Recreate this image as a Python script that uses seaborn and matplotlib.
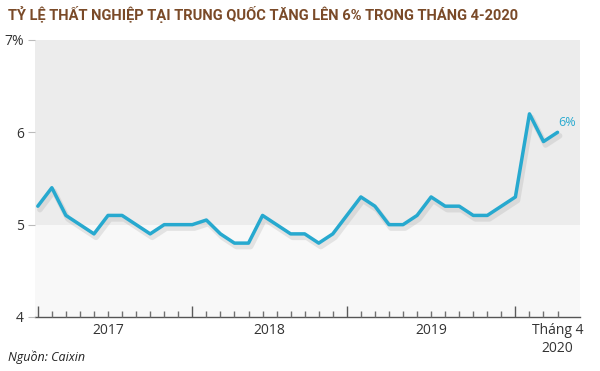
import numpy as np
import pandas as pd
import matplotlib
matplotlib.use("Agg")
import matplotlib.pyplot as plt
import matplotlib.patheffects as pe
import seaborn as sns

# ---- data (monthly surveyed unemployment rate, Mar 2017 .. Apr 2020) ----
rates = [5.2, 5.4, 5.1, 5.0, 4.9, 5.1, 5.1, 5.0, 4.9, 5.0,
         5.0, 5.0, 5.05, 4.9, 4.8, 4.8, 5.1, 5.0, 4.9, 4.9, 4.8, 4.9,
         5.1, 5.3, 5.2, 5.0, 5.0, 5.1, 5.3, 5.2, 5.2, 5.1, 5.1, 5.2,
         5.3, 6.2, 5.9, 6.0]
year_labels = ["2017", "2018", "2019", "Tháng 4\n2020"]
year_label_pos = [5.0, 16.5, 28.0, 37.0]
year_start_ticks = [0, 11, 22, 34]
y_ticks = [4, 5, 6, 7]
y_ticklabels = ["4", "5", "6", "7%"]
end_label = "6%"

df = pd.DataFrame({"month": np.arange(len(rates)), "rate": rates})

sns.set_theme(style="white")
plt.rcParams["font.family"] = ["Open Sans", "DejaVu Sans"]

line_color = "#27a9cf"
fig = plt.figure(figsize=(6.0, 3.71), dpi=100)
ax = fig.add_axes([0.0583, 0.1456, 0.9084, 0.7466])
ax.set_facecolor("#f8f8f8")
ax.set_axisbelow(False)
ax.axhspan(5, 7, color="#ececec", zorder=0, lw=0)

sns.lineplot(data=df, x="month", y="rate", ax=ax, color=line_color,
             linewidth=2.5, zorder=3,
             path_effects=[pe.SimpleLineShadow(offset=(1.5, -2.5), shadow_color="#999999", alpha=0.22,
                                               linewidth=4),
                           pe.Normal()])
ax.lines[-1].set_solid_capstyle("round")

ax.set_xlim(-0.2, 38.6)
ax.set_ylim(4, 7)

# y axis
ax.set_yticks(y_ticks)
ax.set_yticklabels(y_ticklabels, fontsize=10, color="#333333")
ax.tick_params(axis="y", which="major", direction="out", length=5, width=0.8,
               color="#bbbbbb", pad=3, left=True)

# x axis: labels at year centres
ax.set_xticks(year_label_pos)
ax.set_xticklabels(year_labels, fontsize=10, color="#333333")
ax.tick_params(axis="x", which="major", length=0, pad=4)
for lab in ax.get_xticklabels():
    lab.set_linespacing(1.3)
    lab.set_verticalalignment("top")

# monthly and year-start tick marks (pointing up from the axis line)
month_pos = list(range(len(rates)))
for m in month_pos:
    tall = m in year_start_ticks
    ax.plot([m, m], [0, 0.038 if tall else 0.022], transform=ax.get_xaxis_transform(),
            color="#5a5a5a" if tall else "#707070", lw=1.0, zorder=5,
            clip_on=False, solid_capstyle="butt")

for s in ["top", "right", "left"]:
    ax.spines[s].set_visible(False)
ax.spines["bottom"].set_color("#555555")
ax.spines["bottom"].set_linewidth(1.0)
ax.set_xlabel("")
ax.set_ylabel("")

ax.text(df["month"].iloc[-1] + 0.05, df["rate"].iloc[-1] + 0.04, end_label,
        color=line_color, fontsize=9, ha="left", va="bottom")

fig.text(0.013, 0.962, "TỶ LỆ THẤT NGHIỆP TẠI TRUNG QUỐC TĂNG LÊN 6% TRONG THÁNG 4-2020",
         fontsize=10.5, fontweight="bold", color="#7a4a28", ha="left", va="center",
         family=["Liberation Sans Narrow", "Roboto", "DejaVu Sans"])
fig.text(0.013, 0.038, "Nguồn: Caixin", fontsize=9, style="italic", color="#222222",
         ha="left", va="center")

fig.savefig("out.png", dpi=100, facecolor="white")
